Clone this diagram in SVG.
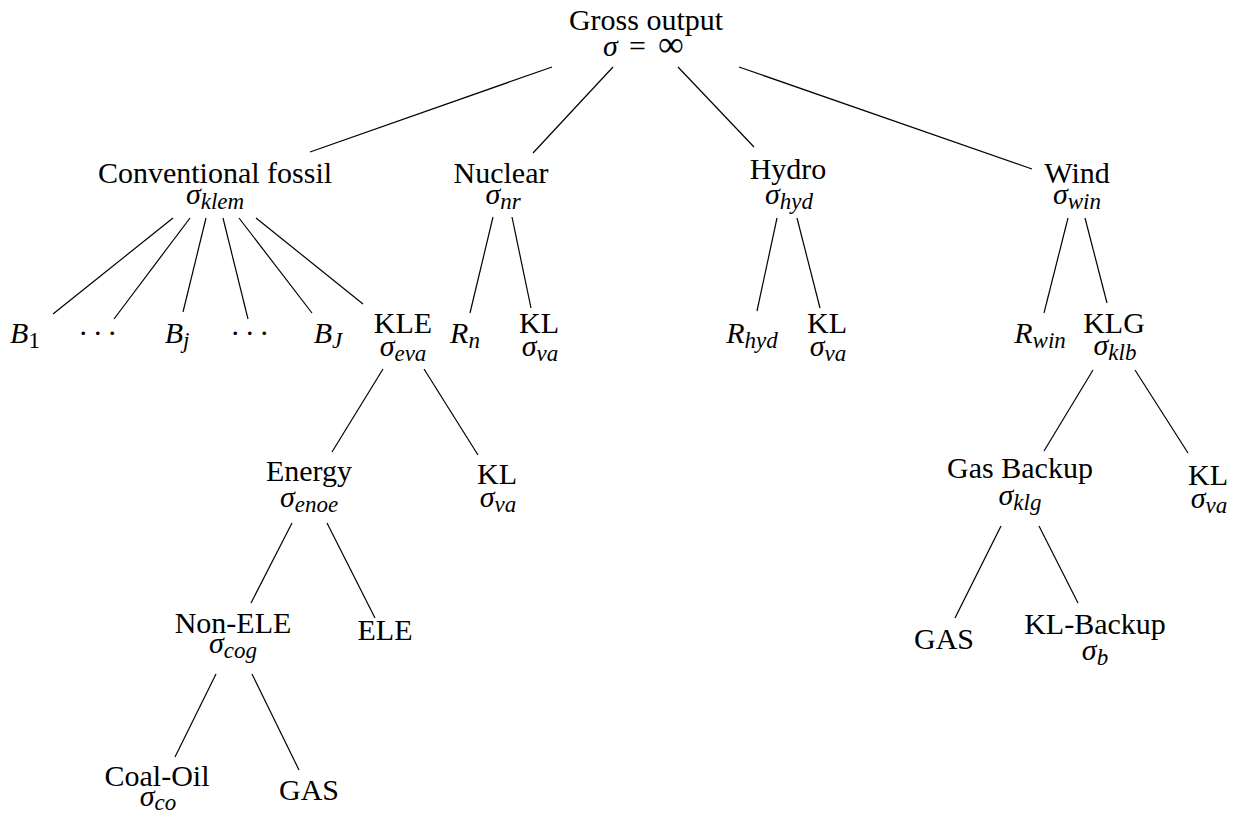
<svg xmlns="http://www.w3.org/2000/svg" width="1247" height="814" viewBox="0 0 1247 814">
<style>
.t{font-family:"Liberation Serif","Times New Roman",serif;font-size:30px;fill:#000;text-anchor:middle}
.m{font-style:italic}
.s{font-size:23px}
.u{font-style:normal}
.c line{stroke:#000;stroke-width:1.2}
</style>
<rect width="1247" height="814" fill="#fff"/>
<g class="c" id="connectors">
<line x1="552" y1="67" x2="310" y2="152"/>
<line x1="613" y1="67" x2="533" y2="153"/>
<line x1="678" y1="67" x2="754" y2="147"/>
<line x1="739" y1="67" x2="1032" y2="169"/>
<line x1="173" y1="218" x2="53" y2="314"/>
<line x1="190" y1="218" x2="114" y2="319"/>
<line x1="206" y1="218" x2="183" y2="312"/>
<line x1="223" y1="218" x2="248" y2="319"/>
<line x1="239" y1="218" x2="312" y2="313"/>
<line x1="256" y1="218" x2="363" y2="304"/>
<line x1="493" y1="217" x2="470" y2="313"/>
<line x1="512" y1="217" x2="531" y2="308"/>
<line x1="777" y1="218" x2="757" y2="311"/>
<line x1="797" y1="218" x2="820" y2="308"/>
<line x1="1068" y1="218" x2="1044" y2="313"/>
<line x1="1085" y1="218" x2="1107" y2="303"/>
<line x1="383" y1="369" x2="332" y2="452"/>
<line x1="424" y1="369" x2="478" y2="455"/>
<line x1="292" y1="523" x2="251" y2="603"/>
<line x1="327" y1="523" x2="375" y2="618"/>
<line x1="216" y1="674" x2="175" y2="757"/>
<line x1="252" y1="674" x2="299" y2="770"/>
<line x1="1093" y1="370" x2="1044" y2="451"/>
<line x1="1135" y1="370" x2="1188" y2="453"/>
<line x1="1001" y1="526" x2="955" y2="618"/>
<line x1="1039" y1="526" x2="1078" y2="603"/>
</g>
<g id="root">
<text class="t" x="646" y="30">Gross output</text>
<text class="t" y="56" style="text-anchor:start"><tspan class="m" x="603">σ</tspan><tspan x="629">=</tspan><tspan x="658" style="font-size:36px">∞</tspan></text>
</g>
<g id="fossil">
<text class="t" x="215" y="183">Conventional fossil</text>
<text class="t m" x="215" y="204">σ<tspan class="s" dy="5">klem</tspan></text>
</g>
<g id="nuclear">
<text class="t" x="501" y="183">Nuclear</text>
<text class="t m" x="503" y="204">σ<tspan class="s" dy="5">nr</tspan></text>
</g>
<g id="hydro">
<text class="t" x="788" y="179">Hydro</text>
<text class="t m" x="789" y="204">σ<tspan class="s" dy="5">hyd</tspan></text>
</g>
<g id="wind">
<text class="t" x="1077" y="183">Wind</text>
<text class="t m" x="1077" y="204">σ<tspan class="s" dy="5">win</tspan></text>
</g>
<g id="b1"><text class="t m" x="25" y="343">B<tspan class="s u" dy="5">1</tspan></text></g>
<g id="dots1"><text class="t" x="100" y="343" style="letter-spacing:4.5px">···</text></g>
<g id="bj"><text class="t m" x="177" y="343">B<tspan class="s" dy="5">j</tspan></text></g>
<g id="dots2"><text class="t" x="252" y="343" style="letter-spacing:4.5px">···</text></g>
<g id="bJ"><text class="t m" x="328" y="343">B<tspan class="s" dy="5">J</tspan></text></g>
<g id="kle">
<text class="t" x="403" y="333">KLE</text>
<text class="t m" x="403" y="356">σ<tspan class="s" dy="5">eva</tspan></text>
</g>
<g id="rn"><text class="t m" x="465" y="343">R<tspan class="s" dy="5">n</tspan></text></g>
<g id="kl-nuc">
<text class="t" x="539" y="333">KL</text>
<text class="t m" x="540" y="356">σ<tspan class="s" dy="5">va</tspan></text>
</g>
<g id="rhyd"><text class="t m" x="752" y="343">R<tspan class="s" dy="5">hyd</tspan></text></g>
<g id="kl-hyd">
<text class="t" x="827" y="333">KL</text>
<text class="t m" x="828" y="356">σ<tspan class="s" dy="5">va</tspan></text>
</g>
<g id="rwin"><text class="t m" x="1040" y="343">R<tspan class="s" dy="5">win</tspan></text></g>
<g id="klg">
<text class="t" x="1114" y="333">KLG</text>
<text class="t m" x="1115" y="355">σ<tspan class="s" dy="5">klb</tspan></text>
</g>
<g id="energy">
<text class="t" x="309" y="481">Energy</text>
<text class="t m" x="309" y="507">σ<tspan class="s" dy="5">enoe</tspan></text>
</g>
<g id="kl-kle">
<text class="t" x="497" y="484">KL</text>
<text class="t m" x="498" y="507">σ<tspan class="s" dy="5">va</tspan></text>
</g>
<g id="nonele">
<text class="t" x="233" y="633">Non-ELE</text>
<text class="t m" x="233" y="653">σ<tspan class="s" dy="5">cog</tspan></text>
</g>
<g id="ele"><text class="t" x="385" y="640">ELE</text></g>
<g id="coaloil">
<text class="t" x="157" y="786">Coal-Oil</text>
<text class="t m" x="158" y="806">σ<tspan class="s" dy="4">co</tspan></text>
</g>
<g id="gas1"><text class="t" x="309" y="800">GAS</text></g>
<g id="gasbackup">
<text class="t" x="1020" y="478">Gas Backup</text>
<text class="t m" x="1020" y="505">σ<tspan class="s" dy="5">klg</tspan></text>
</g>
<g id="kl-klg">
<text class="t" x="1208" y="485">KL</text>
<text class="t m" x="1209" y="508">σ<tspan class="s" dy="5">va</tspan></text>
</g>
<g id="gas2"><text class="t" x="944" y="649">GAS</text></g>
<g id="klbackup">
<text class="t" x="1095" y="634">KL-Backup</text>
<text class="t m" x="1095" y="660">σ<tspan class="s" dy="5">b</tspan></text>
</g>
</svg>
